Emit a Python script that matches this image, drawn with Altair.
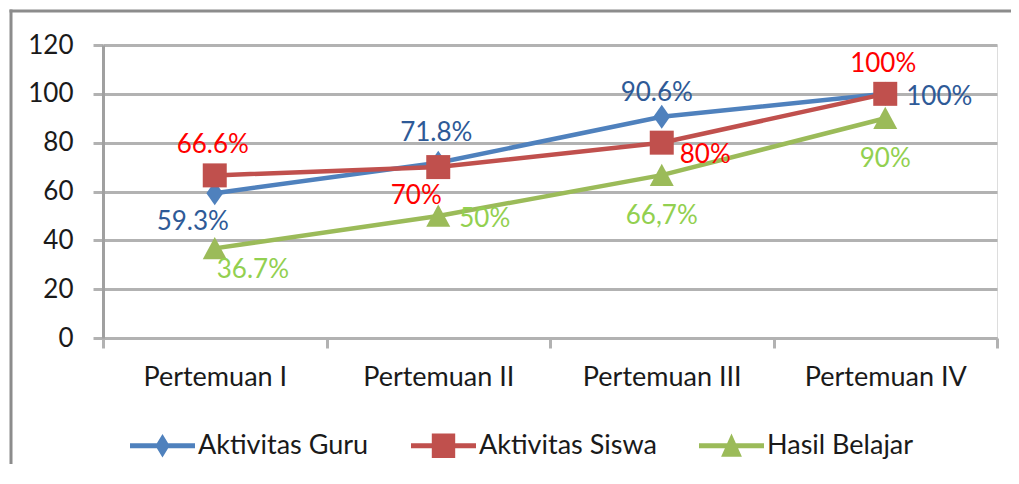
import altair as alt
import pandas as pd

categories = ["Pertemuan I", "Pertemuan II", "Pertemuan III", "Pertemuan IV"]
series_names = ["Aktivitas Guru", "Aktivitas Siswa", "Hasil Belajar"]
guru_values = [59.3, 71.8, 90.6, 100]
siswa_values = [66.6, 70, 80, 100]
hasil_values = [36.7, 50, 66.7, 90]
guru_labels = ["59.3%", "71.8%", "90.6%", "100%"]
siswa_labels = ["66.6%", "70%", "80%", "100%"]
hasil_labels = ["36.7%", "50%", "66,7%", "90%"]
guru_pos = ["belowleft", "above", "aboveleft", "right"]
siswa_pos = ["above", "belowleft", "rightlow", "above"]
hasil_pos = ["belowright", "right", "below", "below"]
y_ticks = [0, 20, 40, 60, 80, 100, 120]

rows = []
for s, vals, labs, poss in zip(series_names,
                               [guru_values, siswa_values, hasil_values],
                               [guru_labels, siswa_labels, hasil_labels],
                               [guru_pos, siswa_pos, hasil_pos]):
    for c, v, l, p in zip(categories, vals, labs, poss):
        rows.append({"category": c, "series": s, "value": v, "label": l, "pos": p})
df = pd.DataFrame(rows)

FONT = "Lato"
TXT = "#1a1a1a"
GRID = "#b2b2b2"
AXIS = "#a0a0a0"
FRAME = "#8c8c8c"
line_colors = ["#4F81BD", "#C0504D", "#9BBB59"]
label_colors = ["#2E5A97", "#FF0000", "#92D050"]
marker_paths = [
    "M0,-1 L0.7,0 L0,1 L-0.7,0 Z",
    "M-1,-1 L1,-1 L1,1 L-1,1 Z",
    "M0,-0.95 L1,0.9 L-1,0.9 Z",
]
legend_paths = [
    "M-1,-0.075 L1,-0.075 L1,0.075 L-1,0.075 Z M0,-0.36 L0.22,0 L0,0.36 L-0.22,0 Z",
    "M-1,-0.075 L1,-0.075 L1,0.075 L-1,0.075 Z M-0.36,-0.38 L0.36,-0.38 L0.36,0.38 L-0.36,0.38 Z",
    "M-1,-0.075 L1,-0.075 L1,0.075 L-1,0.075 Z M0,-0.38 L0.32,0.34 L-0.32,0.34 Z",
]
placements = {
    "above": dict(dx=-2, dy=-30, align="center"),
    "aboveleft": dict(dx=-5, dy=-24, align="center"),
    "belowleft": dict(dx=-22, dy=29, align="center"),
    "right": dict(dx=21, dy=3, align="left"),
    "rightlow": dict(dx=18, dy=12, align="left"),
    "below": dict(dx=0, dy=41, align="center"),
    "belowright": dict(dx=2, dy=22, align="left"),
}

x_enc = alt.X(
    "category:N", sort=categories, bandPosition=0.5,
    scale=alt.Scale(type="band", domain=categories, paddingInner=0, paddingOuter=0),
    axis=alt.Axis(title=None, labelAngle=0, tickBand="extent", tickSize=10, tickWidth=3,
                  tickColor=GRID, domainColor=GRID, domainWidth=3, grid=False,
                  labelFont=FONT, labelFontSize=27, labelColor=TXT, labelPadding=16),
)
y_enc = alt.Y(
    "value:Q", scale=alt.Scale(domain=[0, 120], nice=False, zero=True),
    axis=alt.Axis(title=None, values=y_ticks, grid=True, gridColor=GRID, gridWidth=3,
                  tickSize=10, tickWidth=3, tickColor=GRID, domainColor=AXIS, domainWidth=3,
                  labelFont=FONT, labelFontSize=26, labelColor=TXT, labelPadding=20),
)

base = alt.Chart(df).encode(x=x_enc, y=y_enc)

series_layers = []
for i, s in enumerate(series_names):
    sub = base.transform_filter(alt.datum.series == s)
    series_layers.append(sub.mark_line(strokeWidth=4.5, color=line_colors[i]))
    series_layers.append(sub.mark_point(
        shape=marker_paths[i], filled=True, size=576, color=line_colors[i], opacity=1, strokeWidth=0
    ))

texts = []
for i, s in enumerate(series_names):
    for p, kw in placements.items():
        if p not in set(df.loc[df.series == s, "pos"]):
            continue
        texts.append(
            base.transform_filter((alt.datum.series == s) & (alt.datum.pos == p)).mark_text(
                font=FONT, fontSize=26, baseline="middle", color=label_colors[i], **kw
            ).encode(text="label:N")
        )

leg = dict(orient="none", legendX=27, legendY=368, direction="horizontal", title=None,
           symbolSize=4225, symbolStrokeWidth=0, symbolOpacity=1, labelFont=FONT,
           labelFontSize=27, labelColor=TXT, labelOffset=3, columnPadding=42, labelLimit=400)

dummy = base.transform_filter("datum.value < -1000").mark_point(filled=True).encode(
    color=alt.Color("series:N", scale=alt.Scale(domain=series_names, range=line_colors),
                    legend=alt.Legend(**leg)),
    shape=alt.Shape("series:N", scale=alt.Scale(domain=series_names, range=legend_paths),
                    legend=alt.Legend(**leg)),
)

one = alt.Data(values=[{"k": 1}])
frame_top = alt.Chart(one).mark_rule(stroke=FRAME, strokeWidth=3).encode(
    x=alt.value(-93.5), x2=alt.value(915), y=alt.value(-34), y2=alt.value(-34))
frame_left = alt.Chart(one).mark_rule(stroke=FRAME, strokeWidth=3).encode(
    x=alt.value(-92), x2=alt.value(-92), y=alt.value(-35.5), y2=alt.value(430))

chart = alt.layer(frame_top, frame_left, *series_layers, *texts, dummy).properties(
    width=894, height=293,
    padding={"left": 95, "top": 37, "right": 14, "bottom": 126},
    autosize=alt.AutoSizeParams(type="none"),
).configure_view(stroke=None).configure(background="white")

chart.save("out.html", embed_options={"renderer": "svg", "actions": False})
